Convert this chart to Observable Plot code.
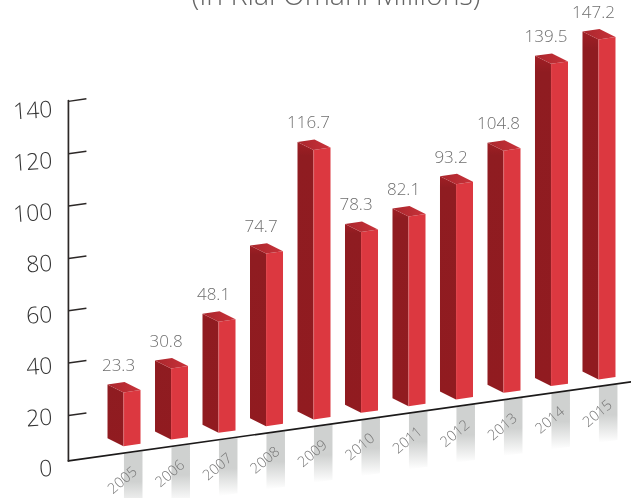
<!DOCTYPE html>
<html>
<head>
<meta charset="utf-8">
<style>
  html, body { margin: 0; padding: 0; background: #fff; overflow: hidden; }
  svg { display: block; will-change: transform; }
</style>
<script src="https://cdn.jsdelivr.net/npm/d3@7"></script>
<script src="https://cdn.jsdelivr.net/npm/@observablehq/plot@0.6"></script>
</head>
<body>
<div id="chart"></div>
<script>
const years = [2005, 2006, 2007, 2008, 2009, 2010, 2011, 2012, 2013, 2014, 2015];
const values = [23.3, 30.8, 48.1, 74.7, 116.7, 78.3, 82.1, 93.2, 104.8, 139.5, 147.2];
const axisTicks = [20, 40, 60, 80, 100, 120, 140];
const axisLabels = [0, 20, 40, 60, 80, 100, 120, 140];
const titleText = "(In Rial Omani Millions)";

// Oblique projection, in scale units: the floor climbs to the right and
// every bar gets a depth offset back and up from its front face.
const rise = 2.89;          // value units of floor climb per year
const faceW = 0.358;        // front face width, years
const depthX = 0.337;       // depth, years
const depthY = 3.46;        // depth, value units
const floorY = (t, v) => v + rise * (t - years[0]);

// The printed axis runs on a taller scale than the bars.
const tickY = v => 1.133 * v - 9.35;
const labelY = v => 1.11 * v - 9.65;

const xMin = 2002.41, xMax = 2015.695;
const axisX = 2003.84;

const faces = years.flatMap((year, i) => {
  const v = values[i], r = year + faceW, l = year - depthX;
  return [
    {key: `${year}-side`, face: "side", pts: [[l, floorY(year, 0) + depthY], [year, floorY(year, 0)], [year, floorY(year, v)], [l, floorY(year, v) + depthY]]},
    {key: `${year}-front`, face: "front", pts: [[year, floorY(year, 0)], [r, floorY(r, 0)], [r, floorY(r, v)], [year, floorY(year, v)]]},
    {key: `${year}-top`, face: "top", pts: [[year, floorY(year, v)], [r, floorY(r, v)], [r - depthX, floorY(r, v) + depthY], [l, floorY(year, v) + depthY]]}
  ];
});
const facePoints = face => faces.filter(f => f.face === face)
  .flatMap(f => f.pts.map(([x, y]) => ({key: f.key, x, y})));

const strips = years.flatMap(year => {
  const a = year + 0.02, b = year + 0.41;
  return [a, b].map(x => ({year, x, y1: floorY(x, -3.6), y2: floorY(x, -3.6) - 24}));
});

const floorLine = [axisX, xMax].map(x => ({x, y: floorY(x, -3)}));
const uprightLine = [floorY(axisX, -3), tickY(140) + 0.35].map(y => ({x: axisX, y}));

// Shared gradients for the faces and the fading floor reflections.
function gradients() {
  const defs = d3.create("svg:defs");
  const add = (id, stops, horizontal) => {
    const g = defs.append("linearGradient").attr("id", id)
      .attr("x1", 0).attr("y1", 0).attr("x2", horizontal ? 1 : 0).attr("y2", horizontal ? 0 : 1);
    stops.forEach(([o, c]) => g.append("stop").attr("offset", o).attr("stop-color", c));
  };
  add("strip", [[0, "#cfd1d0"], [0.52, "#cfd1d0"], [1, "#ffffff"]]);
  add("front", [[0, "#e0484f"], [0.1, "#dc3840"], [1, "#dc3840"]], true);
  add("side", [[0, "#a01f25"], [0.05, "#8f1c21"], [1, "#911b20"]]);
  add("top", [[0, "#a9262c"], [1, "#c9323a"]], true);
  return defs.node();
}

const numeric = {fontFamily: "'Open Sans', Lato, sans-serif", fontWeight: 300};

const plot = Plot.plot({
  width: 631,
  height: 498,
  margin: 0,
  style: {background: "transparent", overflow: "hidden"},
  x: {domain: [xMin, xMax], range: [0, 631], axis: null},
  y: {domain: [-22.64, 192.94], range: [498, 0], axis: null},
  marks: [
    gradients,
    Plot.text([titleText], {
      frameAnchor: "top", dx: 20, dy: 4, lineAnchor: "bottom",
      fontSize: 28.5, fill: "#666", ...numeric
    }),
    // Reflections under the floor line
    Plot.areaY(strips, {x: "x", y1: "y1", y2: "y2", z: "year", fill: "url(#strip)"}),
    // Floor line and upright axis
    Plot.line(floorLine, {x: "x", y: "y", stroke: "#1c1a1a", strokeWidth: 1.7}),
    Plot.line(uprightLine, {x: "x", y: "y", stroke: "#2c2827", strokeWidth: 1.7}),
    Plot.link(axisTicks, {
      x1: () => axisX, x2: () => axisX + 18 / 47.5,
      y1: tickY, y2: d => tickY(d) + rise * 18 / 47.5,
      stroke: "#2c2827", strokeWidth: 1.5
    }),
    Plot.text(axisLabels, {
      x: () => axisX, y: labelY, text: d => String(d), dx: -16, textAnchor: "end",
      rotate: -4, fontSize: 23, fill: "#333", ...numeric
    }),
    // Bars: side, front and top faces
    Plot.line(facePoints("side"), {x: "x", y: "y", z: "key", fill: "url(#side)", stroke: "none", curve: "linear-closed"}),
    Plot.line(facePoints("front"), {x: "x", y: "y", z: "key", fill: "url(#front)", stroke: "none", curve: "linear-closed"}),
    Plot.line(facePoints("top"), {x: "x", y: "y", z: "key", fill: "url(#top)", stroke: "none", curve: "linear-closed"}),
    // Value labels above each bar
    Plot.text(values, {
      x: (d, i) => years[i], y: (d, i) => floorY(years[i], d),
      text: d => d.toFixed(1), dx: -5, dy: -27,
      fontSize: 17, fill: "#6f6f6f", ...numeric
    }),
    // Year labels under the floor
    Plot.text(years, {
      x: d => d, y: d => floorY(d, 0),
      text: d => String(d), dx: -1, dy: 34, rotate: -40,
      fontSize: 14.5, fill: "#777", ...numeric
    })
  ]
});
document.getElementById("chart").append(plot);
</script>
</body>
</html>
